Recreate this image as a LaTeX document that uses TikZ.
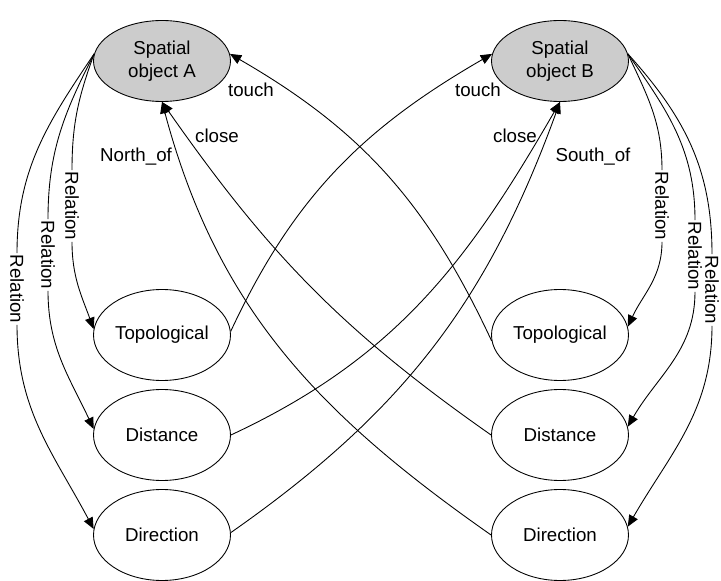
\documentclass[tikz,border=0pt]{standalone}
\usepackage{fontspec}
\setmainfont{Liberation Sans}
\usetikzlibrary{shapes,arrows.meta,positioning}

\begin{document}
\begin{tikzpicture}[x=0.02cm,y=0.02cm,line width=0.5pt,>={Triangle[length=6.5pt,width=5.5pt]},
    font=\fontsize{10.65}{12.9}\selectfont]
  \tikzstyle{obj}=[ellipse,draw=black,fill=black!20,minimum width=2.74cm,minimum height=1.62cm,align=center,inner sep=0pt]
  \tikzstyle{kind}=[ellipse,draw=black,minimum width=2.74cm,minimum height=1.82cm,inner sep=0pt]
  \tikzstyle{rel}=[rotate=-90,fill=white,inner sep=0.6pt]
  \tikzstyle{lbl}=[anchor=base,inner sep=0pt]
  \useasboundingbox (0,0) rectangle (721,-581);
  \node[obj] (A) at (162,-61) {Spatial\\object A};
  \node[obj] (B) at (560,-61) {Spatial\\object B};
  \foreach \name/\txt/\y in {Topo/Topological/335, Dist/Distance/435, Dir/Direction/535}{
    \node[kind] (L-\name) at (162,-\y) {\txt};
    \node[kind] (R-\name) at (560,-\y) {\txt};
  }
  % relation arcs, left side
  \foreach \name/\x/\y/\a/\b in {Topo/72/206/250/110, Dist/48/255/243/115, Dir/17/289/236/118}{
    \node[rel] (LR-\name) at (\x,-\y) {Relation};
    \draw (A.174) to[out=\a,in=90] (LR-\name.west);
    \draw[->] (LR-\name.east) to[out=-90,in=\b] (L-\name.175);
  }
  % relation arcs, right side
  \foreach \name/\x/\y/\a/\b in {Topo/662/206/295/65, Dist/695/256/305/60, Dir/712/290/312/60}{
    \node[rel] (RR-\name) at (\x,-\y) {Relation};
    \draw (B.6) to[out=\a,in=90] (RR-\name.west);
    \draw[->] (RR-\name.east) to[out=-90,in=\b] (R-\name.7);
  }
  % crossing links
  \draw[->] (L-Topo.3) to[out=65,in=210] (B.174);
  \draw[->] (R-Topo.185) to[out=115,in=-30] (A.6);
  \draw[->] (L-Dist.east) to[out=25,in=240] (B.south);
  \draw[->] (R-Dist.west) to[out=145,in=-55] (A.south);
  \draw[->] (L-Dir.2) to[out=35,in=-110] (B.south);
  \draw[->] (R-Dir.west) to[out=145,in=-75] (A.south);
  \node[lbl] (touchA) at (251,-97) {touch};
  \node[lbl] (closeA) at (217,-143) {close};
  \node[lbl] (northA) at (136,-162) {North\_of};
  \node[lbl] (touchB) at (478,-97) {touch};
  \node[lbl] (closeB) at (515,-143) {close};
  \node[lbl] (southB) at (593,-162) {South\_of};
\end{tikzpicture}
\end{document}
